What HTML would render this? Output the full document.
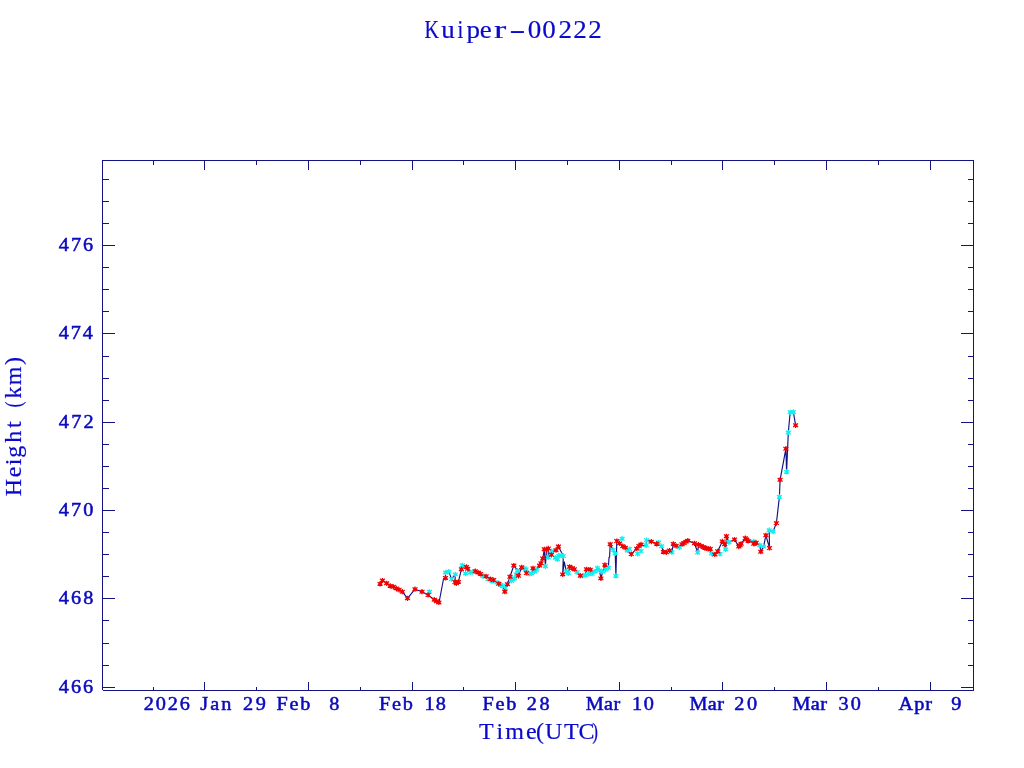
<!DOCTYPE html>
<html lang="en"><head><meta charset="utf-8"><title>Kuiper-00222</title>
<style>
html,body{margin:0;padding:0;background:#fff;}
body{width:1024px;height:768px;overflow:hidden;position:relative;}
svg{position:absolute;left:0;top:0;display:block;}
text{font-family:"Liberation Serif",serif;fill:#0a0abe;}
.tk{font-size:18.4px;letter-spacing:1.15px;word-spacing:0;stroke:#0a0abe;stroke-width:0.5px;}
.lt{font-size:25px;letter-spacing:0;fill:#0a0acd;stroke:#0a0acd;stroke-width:0.2px;}
.lb{font-size:24px;letter-spacing:0;fill:#0a0acd;stroke:#0a0acd;stroke-width:0.2px;}
</style></head><body>
<svg width="1024" height="768" viewBox="0 0 1024 768">
<rect x="0" y="0" width="1024" height="768" fill="#ffffff"/>
<g fill="#131382" shape-rendering="crispEdges">
<rect x="102" y="160" width="872" height="1"/>
<rect x="103" y="690" width="871" height="1"/>
<rect x="102" y="160" width="1" height="530"/>
<rect x="973" y="160" width="1" height="531"/>
<rect x="153" y="161" width="1" height="4"/>
<rect x="153" y="687" width="1" height="3"/>
<rect x="204" y="161" width="1" height="9"/>
<rect x="204" y="682" width="1" height="8"/>
<rect x="256" y="161" width="1" height="4"/>
<rect x="256" y="687" width="1" height="3"/>
<rect x="308" y="161" width="1" height="9"/>
<rect x="308" y="682" width="1" height="8"/>
<rect x="360" y="161" width="1" height="4"/>
<rect x="360" y="687" width="1" height="3"/>
<rect x="412" y="161" width="1" height="9"/>
<rect x="412" y="682" width="1" height="8"/>
<rect x="463" y="161" width="1" height="4"/>
<rect x="463" y="687" width="1" height="3"/>
<rect x="515" y="161" width="1" height="9"/>
<rect x="515" y="682" width="1" height="8"/>
<rect x="567" y="161" width="1" height="4"/>
<rect x="567" y="687" width="1" height="3"/>
<rect x="619" y="161" width="1" height="9"/>
<rect x="619" y="682" width="1" height="8"/>
<rect x="671" y="161" width="1" height="4"/>
<rect x="671" y="687" width="1" height="3"/>
<rect x="722" y="161" width="1" height="9"/>
<rect x="722" y="682" width="1" height="8"/>
<rect x="774" y="161" width="1" height="4"/>
<rect x="774" y="687" width="1" height="3"/>
<rect x="826" y="161" width="1" height="9"/>
<rect x="826" y="682" width="1" height="8"/>
<rect x="878" y="161" width="1" height="4"/>
<rect x="878" y="687" width="1" height="3"/>
<rect x="930" y="161" width="1" height="9"/>
<rect x="930" y="682" width="1" height="8"/>
<rect x="103" y="179" width="6" height="1"/>
<rect x="968" y="179" width="5" height="1"/>
<rect x="103" y="201" width="6" height="1"/>
<rect x="968" y="201" width="5" height="1"/>
<rect x="103" y="223" width="6" height="1"/>
<rect x="968" y="223" width="5" height="1"/>
<rect x="103" y="245" width="12" height="1"/>
<rect x="961" y="245" width="12" height="1"/>
<rect x="103" y="267" width="6" height="1"/>
<rect x="968" y="267" width="5" height="1"/>
<rect x="103" y="289" width="6" height="1"/>
<rect x="968" y="289" width="5" height="1"/>
<rect x="103" y="311" width="6" height="1"/>
<rect x="968" y="311" width="5" height="1"/>
<rect x="103" y="333" width="12" height="1"/>
<rect x="961" y="333" width="12" height="1"/>
<rect x="103" y="356" width="6" height="1"/>
<rect x="968" y="356" width="5" height="1"/>
<rect x="103" y="378" width="6" height="1"/>
<rect x="968" y="378" width="5" height="1"/>
<rect x="103" y="400" width="6" height="1"/>
<rect x="968" y="400" width="5" height="1"/>
<rect x="103" y="422" width="12" height="1"/>
<rect x="961" y="422" width="12" height="1"/>
<rect x="103" y="444" width="6" height="1"/>
<rect x="968" y="444" width="5" height="1"/>
<rect x="103" y="466" width="6" height="1"/>
<rect x="968" y="466" width="5" height="1"/>
<rect x="103" y="488" width="6" height="1"/>
<rect x="968" y="488" width="5" height="1"/>
<rect x="103" y="510" width="12" height="1"/>
<rect x="961" y="510" width="12" height="1"/>
<rect x="103" y="532" width="6" height="1"/>
<rect x="968" y="532" width="5" height="1"/>
<rect x="103" y="554" width="6" height="1"/>
<rect x="968" y="554" width="5" height="1"/>
<rect x="103" y="576" width="6" height="1"/>
<rect x="968" y="576" width="5" height="1"/>
<rect x="103" y="598" width="12" height="1"/>
<rect x="961" y="598" width="12" height="1"/>
<rect x="103" y="620" width="6" height="1"/>
<rect x="968" y="620" width="5" height="1"/>
<rect x="103" y="643" width="6" height="1"/>
<rect x="968" y="643" width="5" height="1"/>
<rect x="103" y="665" width="6" height="1"/>
<rect x="968" y="665" width="5" height="1"/>
<rect x="103" y="687" width="12" height="1"/>
<rect x="961" y="687" width="12" height="1"/>
</g>
<polyline points="380.1,583.9 382.5,580.5 386.7,583.3 390.2,585.9 393.4,586.8 396.3,588.4 399.0,589.8 402.3,591.7 407.5,598.3 415.0,589.2 422.0,591.7 428.1,595.0 434.2,599.7 436.6,601.2 438.9,602.5 439.6,599.5 443.6,578.5 445.5,577.9 445.5,572.5 448.8,571.6 451.6,579.1 455.3,574.4 455.0,582.0 456.3,583.3 458.4,581.9 461.4,569.2 462.3,565.3 466.4,566.9 467.8,568.8 470.2,572.5 472.5,572.0 475.3,571.1 478.1,572.5 480.5,573.9 486.1,576.3 490.3,579.0 493.6,580.0 497.0,582.5 498.8,583.8 502.5,586.0 504.8,591.7 505.3,588.0 507.4,584.2 510.0,576.7 513.8,565.5 517.5,570.6 518.4,575.8 521.7,567.3 526.0,569.2 526.4,573.0 531.6,573.4 533.0,568.3 536.5,569.8 539.5,565.5 541.0,563.3 542.8,558.5 544.3,549.3 545.4,566.3 546.5,549.8 548.3,548.4 548.2,557.4 551.4,554.8 551.6,551.2 556.0,550.2 558.4,546.5 563.3,556.1 562.7,574.4 564.3,561.8 566.3,571.3 568.3,573.3 569.6,566.8 572.0,568.1 574.3,569.2 577.1,572.3 580.3,575.7 585.2,575.2 586.5,569.3 590.2,569.6 592.1,573.7 594.9,571.5 597.4,568.1 599.5,570.5 600.9,578.4 602.8,571.5 604.9,564.9 608.4,567.8 609.0,557.5 609.6,557.0 610.2,544.3 613.1,550.0 615.2,553.4 615.9,575.9 616.8,541.0 619.6,543.4 622.8,546.2 625.2,547.6 627.3,550.5 631.3,554.1 636.7,548.6 641.0,544.4 639.0,546.0 646.1,545.3 646.6,540.2 651.3,541.6 656.6,543.9 661.6,546.3 663.4,551.9 666.3,552.3 669.5,550.5 671.9,552.3 673.3,543.9 676.1,545.8 679.4,547.2 682.0,544.2 684.0,543.0 686.0,541.6 687.8,540.6 694.5,543.3 697.7,552.5 698.5,544.6 701.0,546.0 703.4,547.1 704.9,547.9 706.4,548.4 708.3,548.8 710.2,548.9 711.6,553.6 714.8,554.5 717.7,551.3 722.3,541.4 724.7,544.2 725.6,549.4 726.4,536.3 728.9,542.3 734.5,539.5 738.8,546.6 740.0,545.2 741.1,543.8 745.3,538.1 746.7,539.5 748.1,540.9 753.8,541.4 753.8,543.8 755.0,543.3 756.1,542.8 759.8,545.2 760.8,551.7 763.6,546.6 765.9,535.3 769.5,548.0 769.2,530.2 773.0,531.6 776.4,523.1 779.4,496.9 780.1,479.8 785.9,448.7 786.6,471.9 788.3,432.5 790.2,412.3 793.4,411.9 795.6,425.3" fill="none" stroke="#131382" stroke-width="1.15" stroke-linejoin="round"/>
<defs><g id="m"><circle r="1.75" stroke="none"/><path d="M0-2.6V2.6M-2.5-1.7L2.5 1.7M-2.5 1.7L2.5-1.7" fill="none" stroke-width="1.25"/></g></defs>
<g fill="#10f0f0" stroke="#10f0f0">
<use href="#m" x="429.4" y="591.8"/>
<use href="#m" x="445.5" y="572.5"/>
<use href="#m" x="448.8" y="571.6"/>
<use href="#m" x="451.6" y="579.1"/>
<use href="#m" x="455.3" y="574.4"/>
<use href="#m" x="462.3" y="565.3"/>
<use href="#m" x="465.5" y="573.4"/>
<use href="#m" x="470.2" y="572.5"/>
<use href="#m" x="472.5" y="572.0"/>
<use href="#m" x="483.0" y="576.2"/>
<use href="#m" x="488.0" y="579.0"/>
<use href="#m" x="492.0" y="581.2"/>
<use href="#m" x="497.0" y="582.5"/>
<use href="#m" x="500.8" y="585.0"/>
<use href="#m" x="502.5" y="586.0"/>
<use href="#m" x="505.3" y="588.0"/>
<use href="#m" x="511.3" y="580.8"/>
<use href="#m" x="513.0" y="579.6"/>
<use href="#m" x="514.7" y="578.2"/>
<use href="#m" x="516.2" y="574.5"/>
<use href="#m" x="517.5" y="570.6"/>
<use href="#m" x="524.0" y="568.5"/>
<use href="#m" x="526.0" y="569.2"/>
<use href="#m" x="529.5" y="574.0"/>
<use href="#m" x="531.6" y="573.4"/>
<use href="#m" x="534.5" y="571.5"/>
<use href="#m" x="536.5" y="569.8"/>
<use href="#m" x="545.4" y="566.3"/>
<use href="#m" x="548.2" y="557.4"/>
<use href="#m" x="551.6" y="551.2"/>
<use href="#m" x="555.3" y="557.7"/>
<use href="#m" x="557.4" y="559.3"/>
<use href="#m" x="558.9" y="555.6"/>
<use href="#m" x="561.3" y="555.4"/>
<use href="#m" x="563.3" y="556.1"/>
<use href="#m" x="566.3" y="571.3"/>
<use href="#m" x="568.3" y="573.3"/>
<use href="#m" x="577.1" y="572.3"/>
<use href="#m" x="583.0" y="575.6"/>
<use href="#m" x="585.2" y="575.2"/>
<use href="#m" x="588.7" y="574.0"/>
<use href="#m" x="592.1" y="573.7"/>
<use href="#m" x="594.9" y="571.5"/>
<use href="#m" x="597.4" y="568.1"/>
<use href="#m" x="599.5" y="570.5"/>
<use href="#m" x="602.8" y="571.5"/>
<use href="#m" x="605.6" y="569.6"/>
<use href="#m" x="608.4" y="567.8"/>
<use href="#m" x="613.1" y="550.0"/>
<use href="#m" x="615.2" y="553.4"/>
<use href="#m" x="615.9" y="575.9"/>
<use href="#m" x="622.1" y="538.7"/>
<use href="#m" x="627.3" y="550.5"/>
<use href="#m" x="629.5" y="549.0"/>
<use href="#m" x="637.7" y="553.8"/>
<use href="#m" x="641.0" y="551.0"/>
<use href="#m" x="646.1" y="545.3"/>
<use href="#m" x="646.6" y="540.2"/>
<use href="#m" x="658.5" y="542.5"/>
<use href="#m" x="661.6" y="546.3"/>
<use href="#m" x="671.9" y="552.3"/>
<use href="#m" x="679.4" y="547.2"/>
<use href="#m" x="697.7" y="552.5"/>
<use href="#m" x="711.6" y="553.6"/>
<use href="#m" x="720.0" y="554.0"/>
<use href="#m" x="725.6" y="549.4"/>
<use href="#m" x="728.9" y="542.3"/>
<use href="#m" x="753.8" y="541.4"/>
<use href="#m" x="759.8" y="545.2"/>
<use href="#m" x="763.6" y="546.6"/>
<use href="#m" x="769.2" y="530.2"/>
<use href="#m" x="773.0" y="531.6"/>
<use href="#m" x="779.4" y="496.9"/>
<use href="#m" x="786.6" y="471.9"/>
<use href="#m" x="788.3" y="432.5"/>
<use href="#m" x="790.2" y="412.3"/>
<use href="#m" x="793.4" y="411.9"/>
</g>
<g fill="#f00000" stroke="#f00000">
<use href="#m" x="380.1" y="583.9"/>
<use href="#m" x="382.5" y="580.5"/>
<use href="#m" x="386.7" y="583.3"/>
<use href="#m" x="390.2" y="585.9"/>
<use href="#m" x="393.4" y="586.8"/>
<use href="#m" x="396.3" y="588.4"/>
<use href="#m" x="399.0" y="589.8"/>
<use href="#m" x="402.3" y="591.7"/>
<use href="#m" x="407.5" y="598.3"/>
<use href="#m" x="415.0" y="589.2"/>
<use href="#m" x="422.0" y="591.7"/>
<use href="#m" x="428.1" y="595.0"/>
<use href="#m" x="434.2" y="599.7"/>
<use href="#m" x="436.6" y="601.2"/>
<use href="#m" x="438.9" y="602.5"/>
<use href="#m" x="445.5" y="577.9"/>
<use href="#m" x="455.0" y="582.0"/>
<use href="#m" x="456.3" y="583.3"/>
<use href="#m" x="458.4" y="581.9"/>
<use href="#m" x="461.4" y="569.2"/>
<use href="#m" x="466.4" y="566.9"/>
<use href="#m" x="467.8" y="568.8"/>
<use href="#m" x="475.3" y="571.1"/>
<use href="#m" x="478.1" y="572.5"/>
<use href="#m" x="480.5" y="573.9"/>
<use href="#m" x="486.1" y="576.3"/>
<use href="#m" x="490.3" y="579.0"/>
<use href="#m" x="493.6" y="580.0"/>
<use href="#m" x="498.8" y="583.8"/>
<use href="#m" x="504.8" y="591.7"/>
<use href="#m" x="507.4" y="584.2"/>
<use href="#m" x="510.0" y="576.7"/>
<use href="#m" x="513.8" y="565.5"/>
<use href="#m" x="518.4" y="575.8"/>
<use href="#m" x="521.7" y="567.3"/>
<use href="#m" x="526.4" y="573.0"/>
<use href="#m" x="533.0" y="568.3"/>
<use href="#m" x="539.5" y="565.5"/>
<use href="#m" x="541.0" y="563.3"/>
<use href="#m" x="542.8" y="558.5"/>
<use href="#m" x="544.3" y="549.3"/>
<use href="#m" x="546.5" y="549.8"/>
<use href="#m" x="548.3" y="548.4"/>
<use href="#m" x="551.4" y="554.8"/>
<use href="#m" x="556.0" y="550.2"/>
<use href="#m" x="558.4" y="546.5"/>
<use href="#m" x="562.7" y="574.4"/>
<use href="#m" x="569.6" y="566.8"/>
<use href="#m" x="572.0" y="568.1"/>
<use href="#m" x="574.3" y="569.2"/>
<use href="#m" x="580.3" y="575.7"/>
<use href="#m" x="586.5" y="569.3"/>
<use href="#m" x="590.2" y="569.6"/>
<use href="#m" x="600.9" y="578.4"/>
<use href="#m" x="604.9" y="564.9"/>
<use href="#m" x="610.2" y="544.3"/>
<use href="#m" x="616.8" y="541.0"/>
<use href="#m" x="619.6" y="543.4"/>
<use href="#m" x="622.8" y="546.2"/>
<use href="#m" x="625.2" y="547.6"/>
<use href="#m" x="631.3" y="554.1"/>
<use href="#m" x="636.7" y="548.6"/>
<use href="#m" x="641.0" y="544.4"/>
<use href="#m" x="639.0" y="546.0"/>
<use href="#m" x="651.3" y="541.6"/>
<use href="#m" x="656.6" y="543.9"/>
<use href="#m" x="663.4" y="551.9"/>
<use href="#m" x="666.3" y="552.3"/>
<use href="#m" x="669.5" y="550.5"/>
<use href="#m" x="673.3" y="543.9"/>
<use href="#m" x="676.1" y="545.8"/>
<use href="#m" x="682.0" y="544.2"/>
<use href="#m" x="684.0" y="543.0"/>
<use href="#m" x="686.0" y="541.6"/>
<use href="#m" x="687.8" y="540.6"/>
<use href="#m" x="694.5" y="543.3"/>
<use href="#m" x="698.5" y="544.6"/>
<use href="#m" x="701.0" y="546.0"/>
<use href="#m" x="703.4" y="547.1"/>
<use href="#m" x="704.9" y="547.9"/>
<use href="#m" x="706.4" y="548.4"/>
<use href="#m" x="708.3" y="548.8"/>
<use href="#m" x="710.2" y="548.9"/>
<use href="#m" x="714.8" y="554.5"/>
<use href="#m" x="717.7" y="551.3"/>
<use href="#m" x="722.3" y="541.4"/>
<use href="#m" x="724.7" y="544.2"/>
<use href="#m" x="726.4" y="536.3"/>
<use href="#m" x="734.5" y="539.5"/>
<use href="#m" x="738.8" y="546.6"/>
<use href="#m" x="740.0" y="545.2"/>
<use href="#m" x="741.1" y="543.8"/>
<use href="#m" x="745.3" y="538.1"/>
<use href="#m" x="746.7" y="539.5"/>
<use href="#m" x="748.1" y="540.9"/>
<use href="#m" x="753.8" y="543.8"/>
<use href="#m" x="755.0" y="543.3"/>
<use href="#m" x="756.1" y="542.8"/>
<use href="#m" x="760.8" y="551.7"/>
<use href="#m" x="765.9" y="535.3"/>
<use href="#m" x="769.5" y="548.0"/>
<use href="#m" x="776.4" y="523.1"/>
<use href="#m" x="780.1" y="479.8"/>
<use href="#m" x="785.9" y="448.7"/>
<use href="#m" x="795.6" y="425.3"/>
</g>
<text class="lt" transform="translate(0.00 37.50) scale(1.080 1)" x="392.98 408.63 423.69 432.03 444.10 457.44 471.56 488.56 502.18 517.02 530.91 544.80" y="0" xml:space="preserve"><tspan textLength="13.42" lengthAdjust="spacingAndGlyphs">K</tspan>u<tspan textLength="5.36" lengthAdjust="spacingAndGlyphs">i</tspan>pe<tspan textLength="11.37" lengthAdjust="spacingAndGlyphs">r</tspan><tspan textLength="15.13" lengthAdjust="spacingAndGlyphs">-</tspan>00222</text>
<text class="lb" transform="translate(0.00 738.50) scale(1.000 1)" x="478.94 496.38 505.16 525.88 536.12 545.06 563.94 578.38 592.21" y="0" xml:space="preserve">Time(UTC<tspan textLength="5.75" lengthAdjust="spacingAndGlyphs">)</tspan></text>
<text class="lb" transform="translate(21.00 494.90) rotate(-90) scale(1.000 1)" x="-1.42 17.62 29.67 37.04 52.20 66.88 73.54 87.53 96.31 109.76 129.82" y="0" xml:space="preserve">Height <tspan textLength="6.14" lengthAdjust="spacingAndGlyphs">(</tspan>km)</text>
<text class="tk" transform="translate(0 251.00) scale(1.100 1)" xml:space="preserve"><tspan x="53.44" style="letter-spacing:1.87px">476</tspan></text>
<text class="tk" transform="translate(0 339.00) scale(1.100 1)" xml:space="preserve"><tspan x="53.44" style="letter-spacing:1.74px">474</tspan></text>
<text class="tk" transform="translate(0 428.00) scale(1.100 1)" xml:space="preserve"><tspan x="53.44" style="letter-spacing:2.06px">472</tspan></text>
<text class="tk" transform="translate(0 516.00) scale(1.100 1)" xml:space="preserve"><tspan x="53.44" style="letter-spacing:1.93px">470</tspan></text>
<text class="tk" transform="translate(0 604.00) scale(1.100 1)" xml:space="preserve"><tspan x="53.44" style="letter-spacing:1.93px">468</tspan></text>
<text class="tk" transform="translate(0 693.00) scale(1.100 1)" xml:space="preserve"><tspan x="53.44" style="letter-spacing:1.87px">466</tspan></text>
<text class="tk" transform="translate(0 710.00) scale(1.100 1)" xml:space="preserve"><tspan x="130.80" style="letter-spacing:1.70px">2026</tspan> <tspan x="182.12" style="letter-spacing:1.90px">Jan</tspan> <tspan x="220.84" style="letter-spacing:2.38px">29</tspan></text>
<text class="tk" transform="translate(0 710.00) scale(1.100 1)" xml:space="preserve"><tspan x="251.32" style="letter-spacing:1.59px">Feb</tspan>  <tspan x="299.38" style="letter-spacing:0.00px">8</tspan></text>
<text class="tk" transform="translate(0 710.00) scale(1.100 1)" xml:space="preserve"><tspan x="344.50" style="letter-spacing:1.59px">Feb</tspan> <tspan x="385.87" style="letter-spacing:0.98px">18</tspan></text>
<text class="tk" transform="translate(0 710.00) scale(1.100 1)" xml:space="preserve"><tspan x="438.59" style="letter-spacing:1.59px">Feb</tspan> <tspan x="478.80" style="letter-spacing:2.38px">28</tspan></text>
<text class="tk" transform="translate(0 710.00) scale(1.100 1)" xml:space="preserve"><tspan x="532.45" style="letter-spacing:0.34px">Mar</tspan> <tspan x="574.51" style="letter-spacing:1.44px">10</tspan></text>
<text class="tk" transform="translate(0 710.00) scale(1.100 1)" xml:space="preserve"><tspan x="626.77" style="letter-spacing:0.34px">Mar</tspan> <tspan x="667.43" style="letter-spacing:2.38px">20</tspan></text>
<text class="tk" transform="translate(0 710.00) scale(1.100 1)" xml:space="preserve"><tspan x="720.41" style="letter-spacing:0.34px">Mar</tspan> <tspan x="762.22" style="letter-spacing:2.10px">30</tspan></text>
<text class="tk" transform="translate(0 710.00) scale(1.100 1)" xml:space="preserve"><tspan x="816.92" style="letter-spacing:0.83px">Apr</tspan>  <tspan x="864.73" style="letter-spacing:0.00px">9</tspan></text>
</svg>
</body></html>
